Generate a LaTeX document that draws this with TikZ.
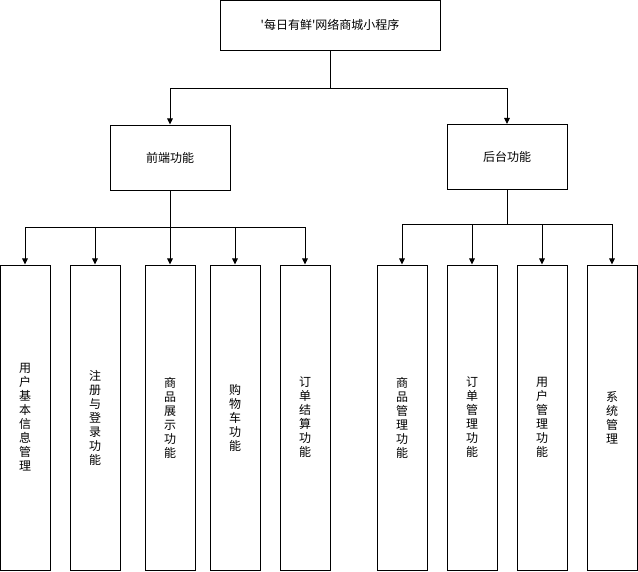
\documentclass[tikz,border=0pt]{standalone}
\usepackage{fontspec}
\newfontfamily\cjk{Noto Sans CJK SC}
\usetikzlibrary{positioning,arrows.meta}
\tikzset{
  funcbox/.style={draw, line width=0.75pt, align=center, font=\cjk\fontsize{9}{10.5}\selectfont,
    inner sep=0pt, fill=white},
  topbox/.style={funcbox, minimum width=165pt, minimum height=37.5pt},
  midbox/.style={funcbox, minimum width=90pt, minimum height=48.75pt},
  leafbox/.style={funcbox, minimum width=37.5pt, minimum height=228.75pt},
  linkarrow/.style={-{Triangle[length=1.6mm,width=1.5mm]}, line width=0.75pt},
}

\begin{document}
\begin{tikzpicture}[x=0.75pt, y=-0.75pt]
  \useasboundingbox (0,0) rectangle (638,571);
  % 顶层
  \node[topbox] (app) at (330,25) {'每日有鲜'网络商城小程序};
  \node[midbox] (front) at (170,157.5) {前端功能};
  \node[midbox] (back) at (507,157) {后台功能};
  \coordinate (appjoin) at (330,88);
  \draw[line width=0.75pt] (app.south) -- (appjoin);
  \draw[linkarrow] (appjoin) -| (front.north);
  \draw[linkarrow] (appjoin) -| (back.north);
  % 前端功能
  \node[leafbox] (userinfo) at (25,417.5) {用\\户\\基\\本\\信\\息\\管\\理};
  \node[leafbox] (login) at (95,417.5) {注\\册\\与\\登\\录\\功\\能};
  \node[leafbox] (show) at (170,417.5) {商\\品\\展\\示\\功\\能};
  \node[leafbox] (cart) at (235,417.5) {购\\物\\车\\功\\能};
  \node[leafbox] (settle) at (305,417.5) {订\\单\\结\\算\\功\\能};
  \coordinate (frontjoin) at (170,227);
  \draw[line width=0.75pt] (front.south) -- (frontjoin);
  \foreach \leaf in {userinfo,login,show,cart,settle}
    \draw[linkarrow] (frontjoin) -| (\leaf.north);
  % 后台功能
  \node[leafbox] (goodsmgr) at (402,417.5) {商\\品\\管\\理\\功\\能};
  \node[leafbox] (ordermgr) at (472,417.5) {订\\单\\管\\理\\功\\能};
  \node[leafbox] (usermgr) at (542,417.5) {用\\户\\管\\理\\功\\能};
  \node[leafbox] (sysmgr) at (612,417.5) {系\\统\\管\\理};
  \coordinate (backjoin) at (507,224);
  \draw[line width=0.75pt] (back.south) -- (backjoin);
  \foreach \leaf in {goodsmgr,ordermgr,usermgr,sysmgr}
    \draw[linkarrow] (backjoin) -| (\leaf.north);
\end{tikzpicture}
\end{document}
